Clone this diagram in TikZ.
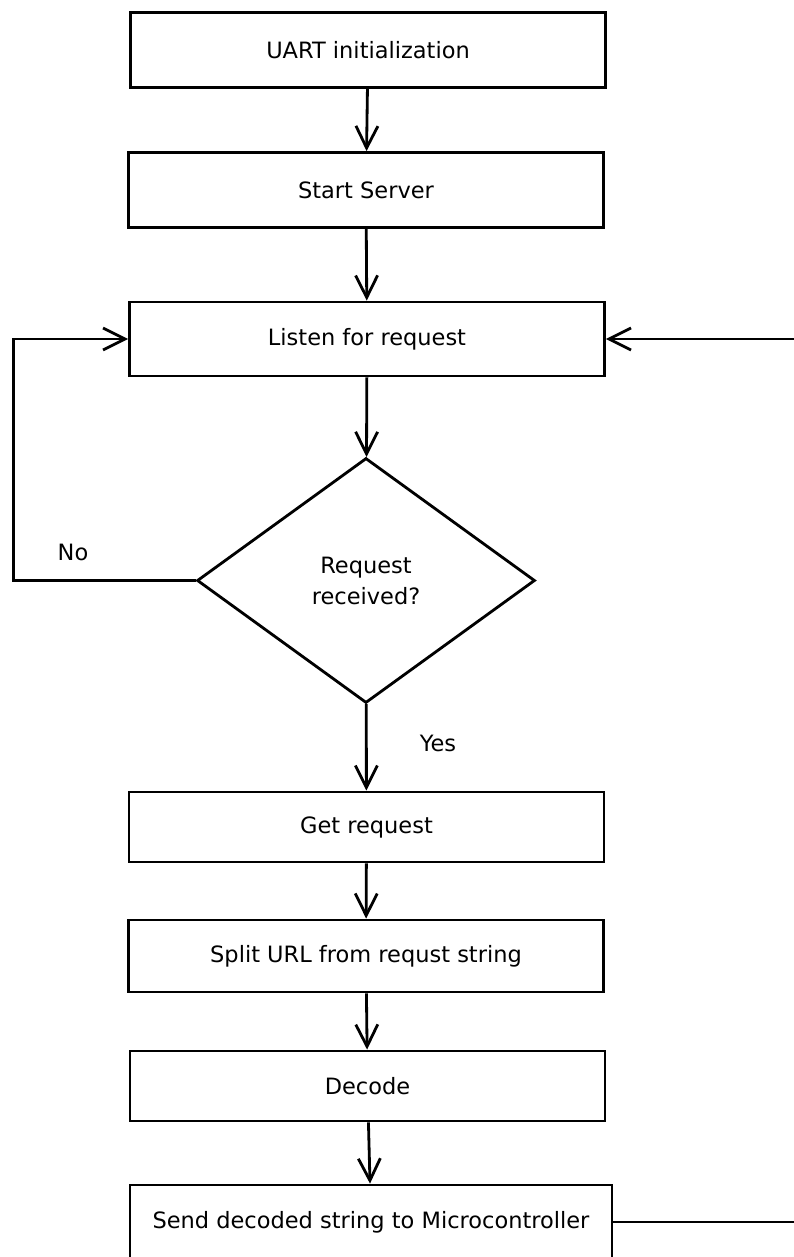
\documentclass[tikz,border=0pt]{standalone}
\usepackage{fontspec}
\setmainfont{DejaVu Sans}
\usetikzlibrary{arrows.meta,shapes.geometric}
\tikzset{
  stepline/.style={line width=1.6pt, -{Straight Barb[length=4.4mm,width=4.4mm,line width=1.6pt]}},
  procbox/.style={draw, line width=1.6pt, rectangle, inner sep=0pt, minimum width=9.5cm, minimum height=1.5cm, font=\fontsize{12.8pt}{17.6pt}\selectfont},
  checkbox/.style={draw, line width=1.6pt, diamond, inner sep=0pt, minimum width=6.76cm, minimum height=4.9cm, align=center, font=\fontsize{12.8pt}{17.6pt}\selectfont}
}
\begin{document}
\begin{tikzpicture}[x=0.02cm, y=-0.02cm] % one unit = one pixel, y downwards
  % page frame
  \clip (0,0) rectangle (794,1257);
  % boxes of the flow
  \node[procbox] (uart) at (368,50) {UART initialization};
  \node[procbox] (server) at (366,190) {Start Server};
  \node[procbox, minimum height=1.48cm] (listen) at (367,339) {Listen for request};
  % decision
  \node[checkbox] (check) at (366,580.5) {Request\\received?};
  \node[procbox, minimum height=1.4cm] (getreq) at (366.5,827) {Get request};
  \node[procbox, minimum height=1.44cm] (split) at (366,956) {Split URL from requst string};
  \node[procbox, minimum height=1.4cm] (decode) at (367.5,1086) {Decode};
  \node[procbox, minimum width=9.64cm, minimum height=1.48cm] (send) at (371,1222) {Send decoded string to Microcontroller};
  % straight arrows down
  \draw[stepline] (uart) -- (server);
  \draw[stepline] (server) -- (listen);
  \draw[stepline] (listen) -- (check);
  \draw[stepline] (check) -- (getreq);
  \draw[stepline] (getreq) -- (split);
  \draw[stepline] (split) -- (decode);
  \draw[stepline] (decode) -- (send);
  % no: back to listening
  \draw[stepline] (check.west) -- ++(-182,0) |- (listen.west);
  \node[font=\fontsize{12.8pt}{17.6pt}\selectfont] (nolabel) at (73,552) {No};
  \node[font=\fontsize{12.8pt}{17.6pt}\selectfont] (yeslabel) at (438,743) {Yes};
  % loop round on the right
  \draw[stepline] (send.east) -- ++(240,0) |- (listen.east);
\end{tikzpicture}
\end{document}
